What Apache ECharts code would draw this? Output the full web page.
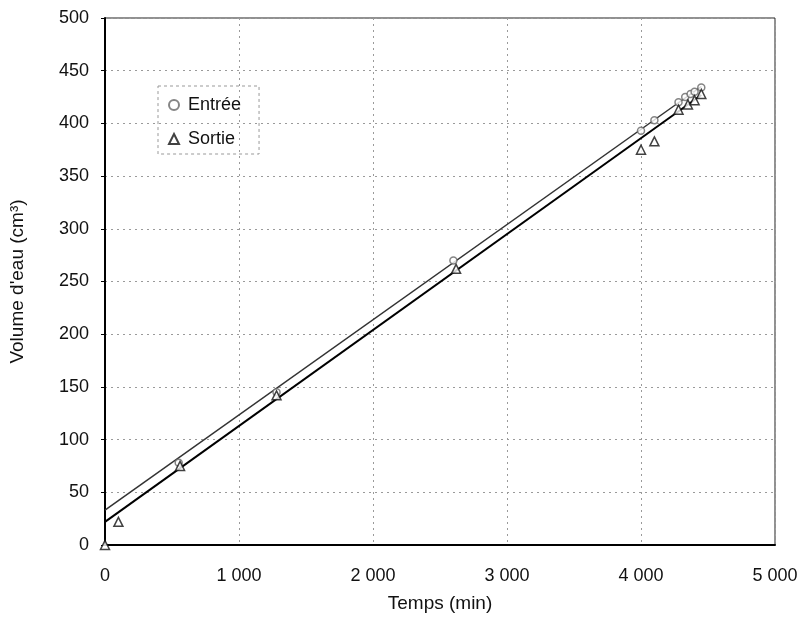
<!DOCTYPE html>
<html>
<head>
<meta charset="utf-8">
<script src="https://cdn.jsdelivr.net/npm/echarts@6/dist/echarts.min.js"></script>
<style>
  html, body { margin: 0; padding: 0; background: #fff; }
  #chart { width: 805px; height: 619px; }
</style>
</head>
<body>
<div id="chart"></div>
<script>
var entreeX = [550, 1280, 2600, 4000, 4100, 4280, 4330, 4370, 4400, 4450]
var entreeY = [78, 145, 270, 393, 403, 420, 425, 428, 430, 434]
var sortieX = [0, 100, 560, 1280, 2620, 4000, 4100, 4280, 4350, 4400, 4450]
var sortieY = [0, 22, 75, 142, 262, 375, 383, 413, 418, 422, 428]
// droites de regression (extremites)
var entreeFit = [[0, 33], [4450, 435]]
var sortieFit = [[0, 22], [4450, 427]]
var xTicks = [0, 1000, 2000, 3000, 4000, 5000]

function pairs(xs, ys) {
    return xs.map(function (x, i) { return [x, ys[i]] })
}

var chart = echarts.init(document.getElementById('chart'))
var font = 'Liberation Sans, Arial, sans-serif'
var dashed = { color: '#9a9a9a', type: [2, 4], width: 1 }

chart.setOption({
    backgroundColor: '#fff',
    animation: false,
    textStyle: { fontFamily: font },
    grid: { left: 104, right: 30, top: 18, bottom: 74, show: true, borderColor: '#222', borderWidth: 1 },
    legend: {
        orient: 'vertical',
        left: 158, top: 86,
        padding: [10, 18, 6, 10],
        itemGap: 16,
        itemWidth: 10, itemHeight: 10,
        borderColor: '#999', borderWidth: 1,
        borderType: [3, 3],
        textStyle: { fontSize: 18, color: '#111', fontFamily: font, padding: [0, 0, 0, 4] },
        data: ['Entrée', 'Sortie']
    },
    xAxis: {
        type: 'value', min: 0, max: 5000, interval: 1000,
        name: 'Temps (min)', nameLocation: 'middle', nameGap: 49,
        nameTextStyle: { fontSize: 19, color: '#111' },
        axisLine: { show: true, lineStyle: { color: '#000', width: 2 } },
        axisTick: { show: false },
        axisLabel: {
            fontSize: 18, color: '#111', margin: 22,
            formatter: function (v) { return xTicks.indexOf(v) >= 0 ? String(v).replace(/\B(?=(\d{3})+(?!\d))/g, ' ') : '' }
        },
        splitLine: { show: true, lineStyle: dashed }
    },
    yAxis: {
        type: 'value', min: 0, max: 500, interval: 50,
        name: 'Volume d\'eau (cm³)', nameLocation: 'middle', nameGap: 78,
        nameTextStyle: { fontSize: 19, color: '#111' },
        axisLine: { show: true, lineStyle: { color: '#000', width: 2 } },
        axisTick: { show: true, length: 4, lineStyle: { color: '#000' } },
        axisLabel: { fontSize: 18, color: '#111', margin: 16 },
        splitLine: { show: true, lineStyle: dashed }
    },
    series: [
        {
            name: 'Entrée', type: 'scatter',
            data: pairs(entreeX, entreeY),
            symbol: 'circle', symbolSize: 7,
            itemStyle: { color: '#fff', borderColor: '#666', borderWidth: 1.5 },
            z: 5
        },
        {
            name: 'Sortie', type: 'scatter',
            data: pairs(sortieX, sortieY),
            symbol: 'triangle', symbolSize: 9,
            itemStyle: { color: '#fff', borderColor: '#111', borderWidth: 1.5 },
            z: 5
        },
        {
            name: 'fitE', type: 'line', data: entreeFit,
            symbol: 'none', lineStyle: { color: '#333', width: 1.5 },
            silent: true, z: 3
        },
        {
            name: 'fitS', type: 'line', data: sortieFit,
            symbol: 'none', lineStyle: { color: '#000', width: 2 },
            silent: true, z: 3
        }
    ]
})
</script>
</body>
</html>
